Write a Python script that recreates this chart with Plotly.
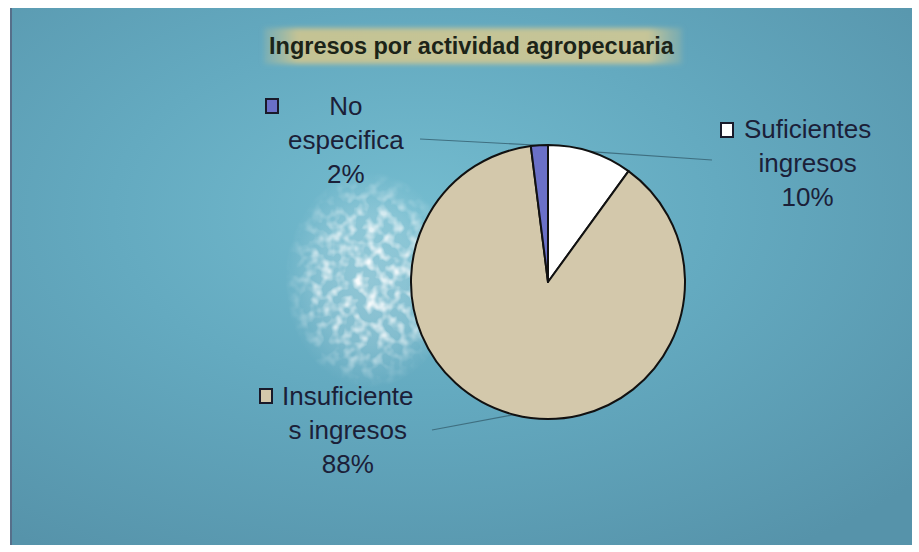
import math
import base64
import plotly.graph_objects as go

# ---- data ----
categories = ["Suficientes ingresos", "Insuficientes ingresos", "No especifica"]
label_lines = ["Suficientes<br>ingresos", "Insuficiente<br>s ingresos", "No<br>especifica"]
percent_values = [10, 88, 2]
slice_colors = ["#ffffff", "#d3c8ab", "#6a70c8"]
title_text = "Ingresos por actividad agropecuaria"

W, H = 919, 552
CX, CY, R = 548, 282, 137  # pie centre / radius in pixels


def px(x):
    return x / W


def py(y):
    return 1 - y / H


# ---- background (gradient drawn as an SVG image) ----
svg = f"""<svg xmlns='http://www.w3.org/2000/svg' width='{W}' height='{H}' viewBox='0 0 {W} {H}' preserveAspectRatio='none'>
<defs>
<radialGradient id='bg' cx='0.45' cy='0.38' r='0.75'>
<stop offset='0' stop-color='#74bccf'/>
<stop offset='0.45' stop-color='#64aac0'/>
<stop offset='1' stop-color='#5693aa'/>
</radialGradient>
<linearGradient id='tb' x1='0' y1='0' x2='1' y2='0'>
<stop offset='0' stop-color='#a9bba0' stop-opacity='0.3'/>
<stop offset='0.08' stop-color='#c4c394'/>
<stop offset='0.92' stop-color='#c6c598'/>
<stop offset='1' stop-color='#a9bba0' stop-opacity='0.3'/>
</linearGradient>
<radialGradient id='sp' cx='0.5' cy='0.5' r='0.5'>
<stop offset='0' stop-color='#ffffff' stop-opacity='1'/>
<stop offset='0.6' stop-color='#ffffff' stop-opacity='0.7'/>
<stop offset='1' stop-color='#ffffff' stop-opacity='0'/>
</radialGradient>
<filter id='noise' x='0' y='0' width='100%' height='100%'>
<feTurbulence type='fractalNoise' baseFrequency='0.09' numOctaves='2' seed='3' result='n'/>
<feColorMatrix in='n' type='matrix' values='0 0 0 0 1  0 0 0 0 1  0 0 0 0 1  0 0 0 2.6 -1.1' result='w'/>
<feComposite in='w' in2='SourceGraphic' operator='in'/>
</filter>
<filter id='bl2' x='-20%' y='-50%' width='140%' height='200%'><feGaussianBlur stdDeviation='2.5'/></filter>
</defs>
<rect x='0' y='0' width='{W}' height='{H}' fill='#ffffff'/>
<rect x='10' y='8' width='902' height='537' fill='url(#bg)'/>
<rect x='10' y='8' width='2' height='537' fill='#566f8a'/>
<ellipse cx='370' cy='280' rx='85' ry='108' fill='url(#sp)' opacity='0.25'/>
<ellipse cx='370' cy='280' rx='85' ry='108' fill='url(#sp)' filter='url(#noise)'/>
<rect x='264' y='28' width='418' height='36' fill='url(#tb)' filter='url(#bl2)'/>
</svg>"""
svg_uri = "data:image/svg+xml;base64," + base64.b64encode(svg.encode()).decode()

fig = go.Figure()
fig.add_trace(go.Pie(
    labels=categories,
    values=percent_values,
    sort=False,
    direction="clockwise",
    rotation=0,
    marker=dict(colors=slice_colors, line=dict(color="#111111", width=2)),
    textinfo="none",
    hoverinfo="label+percent",
    showlegend=False,
    domain=dict(x=[px(CX - R), px(CX + R)], y=[py(CY + R), py(CY - R)]),
))

# ---- labels, legend keys and leader lines ----
label_pos = [(807, 163), (348, 430), (346, 140)]   # centre of label block
key_pos = [(727, 130), (266, 396), (272, 106)]     # small legend squares
line_end = [(712, 160), (432, 430), (420, 139)]    # label end of leader line

shapes = []
annotations = []
total = sum(percent_values)
cum = 0
for i, v in enumerate(percent_values):
    mid = (cum + v / 2) / total * 2 * math.pi
    cum += v
    ex = CX + R * math.sin(mid)
    ey = CY - R * math.cos(mid)
    lx, ly = line_end[i]
    shapes.append(dict(type="line", xref="paper", yref="paper",
                       x0=px(ex), y0=py(ey), x1=px(lx), y1=py(ly),
                       line=dict(color="#3f6f80", width=1.2), layer="below"))
    kx, ky = key_pos[i]
    shapes.append(dict(type="rect", xref="paper", yref="paper",
                       x0=px(kx - 6), x1=px(kx + 6), y0=py(ky + 7), y1=py(ky - 7),
                       fillcolor=slice_colors[i], line=dict(color="#1a1a2a", width=2)))
    tx, ty = label_pos[i]
    annotations.append(dict(
        x=px(tx), y=py(ty), xref="paper", yref="paper",
        text=f"{label_lines[i]}<br>{round(v / total * 100)}%",
        showarrow=False, xanchor="center", yanchor="middle", align="center",
        font=dict(family="Liberation Sans, Arial, sans-serif", size=26, color="#1b2038"),
    ))

annotations.append(dict(
    x=px(472), y=py(46), xref="paper", yref="paper", text=f"<b>{title_text}</b>",
    showarrow=False, xanchor="center", yanchor="middle",
    font=dict(family="Liberation Sans, Arial, sans-serif", size=23.5, color="#1c2418"),
))

fig.update_layout(
    width=W, height=H,
    margin=dict(l=0, r=0, t=0, b=0),
    paper_bgcolor="#ffffff",
    plot_bgcolor="rgba(0,0,0,0)",
    images=[dict(source=svg_uri, xref="paper", yref="paper", x=0, y=1,
                 sizex=1, sizey=1, xanchor="left", yanchor="top",
                 sizing="stretch", layer="below")],
    shapes=shapes,
    annotations=annotations,
)

fig.write_html("out.html", config={"displayModeBar": False},
               post_script="document.body.style.margin='0';")
